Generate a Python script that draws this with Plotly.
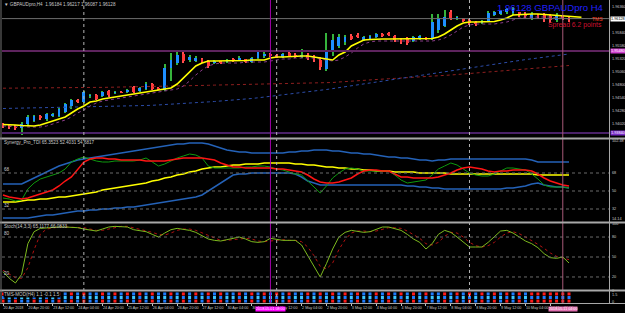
import plotly.graph_objects as go

# ---------------- data ----------------
opens = [
1.94020,1.93980,1.93960,1.93940,1.94020,1.94080,1.94180,1.94120,1.94180,1.94180,
1.94260,1.94380,1.94500,1.94460,1.94580,1.94600,1.94580,1.94680,1.94640,1.94660,
1.94660,1.94760,1.94680,1.94720,1.94820,1.94740,1.94700,1.95140,1.95240,1.95420,
1.95300,1.95280,1.95320,1.95280,1.95240,1.95280,1.95260,1.95320,1.95300,1.95320,
1.95260,1.95340,1.95380,1.95420,1.95400,1.95360,1.95440,1.95400,1.95360,1.95400,
1.95360,1.95300,1.95120,1.95500,1.95580,1.95660,1.95780,1.95800,1.95700,1.95720,
1.95760,1.95820,1.95840,1.95780,1.95720,1.95720,1.95680,1.95720,1.95760,1.95720,
1.95900,1.95980,1.96260,1.96120,1.96140,1.96100,1.96060,1.96040,1.96080,1.96200,
1.96220,1.96260,1.96240,1.96260,1.96220,1.96140,1.96200,1.96200,1.96180,1.96100,
1.96180,1.96140]
highs = [
1.94040,1.94020,1.94000,1.94060,1.94200,1.94200,1.94200,1.94240,1.94240,1.94340,
1.94440,1.94520,1.94520,1.94680,1.94620,1.94620,1.94680,1.94700,1.94680,1.94680,
1.94720,1.94780,1.94760,1.94860,1.94840,1.94760,1.95220,1.95440,1.95460,1.95460,
1.95400,1.95380,1.95340,1.95300,1.95300,1.95280,1.95320,1.95340,1.95380,1.95320,
1.95360,1.95480,1.95460,1.95440,1.95420,1.95440,1.95460,1.95440,1.95520,1.95440,
1.95400,1.95360,1.95840,1.95820,1.95820,1.95800,1.95820,1.95840,1.95780,1.95800,
1.95840,1.95840,1.95860,1.95800,1.95740,1.95760,1.95780,1.95800,1.95760,1.96220,
1.96220,1.96300,1.96300,1.96180,1.96140,1.96120,1.96080,1.96100,1.96280,1.96280,
1.96300,1.96340,1.96360,1.96260,1.96260,1.96260,1.96220,1.96240,1.96220,1.96240,
1.96200,1.96160]
lows = [
1.93940,1.93920,1.93900,1.93800,1.94000,1.94060,1.94100,1.94080,1.94160,1.94160,
1.94240,1.94320,1.94440,1.94440,1.94540,1.94500,1.94560,1.94560,1.94620,1.94640,
1.94640,1.94640,1.94660,1.94700,1.94700,1.94700,1.94680,1.94880,1.95200,1.95240,
1.95260,1.95260,1.95240,1.95140,1.95220,1.95220,1.95240,1.95260,1.95280,1.95240,
1.95240,1.95320,1.95340,1.95360,1.95340,1.95340,1.95360,1.95340,1.95340,1.95300,
1.95260,1.95100,1.95080,1.95380,1.95540,1.95600,1.95700,1.95740,1.95680,1.95700,
1.95740,1.95760,1.95780,1.95660,1.95620,1.95600,1.95660,1.95700,1.95700,1.95700,
1.95840,1.95960,1.96100,1.96100,1.96060,1.96000,1.95980,1.96020,1.96060,1.96180,
1.96200,1.96220,1.96200,1.96160,1.96140,1.96100,1.96120,1.96060,1.96040,1.96060,
1.96100,1.96060]
closes = [
1.93980,1.93960,1.93940,1.94020,1.94160,1.94180,1.94140,1.94220,1.94220,1.94320,
1.94420,1.94500,1.94460,1.94660,1.94600,1.94520,1.94660,1.94600,1.94660,1.94640,
1.94700,1.94660,1.94740,1.94820,1.94720,1.94720,1.95140,1.95300,1.95400,1.95280,
1.95360,1.95340,1.95260,1.95180,1.95280,1.95240,1.95300,1.95280,1.95340,1.95260,
1.95340,1.95460,1.95420,1.95380,1.95360,1.95420,1.95380,1.95360,1.95400,1.95340,
1.95300,1.95160,1.95500,1.95700,1.95760,1.95760,1.95720,1.95760,1.95760,1.95780,
1.95820,1.95780,1.95800,1.95700,1.95660,1.95640,1.95760,1.95780,1.95720,1.96060,
1.96140,1.96160,1.96140,1.96160,1.96080,1.96040,1.96020,1.96080,1.96240,1.96260,
1.96280,1.96320,1.96320,1.96200,1.96180,1.96220,1.96160,1.96120,1.96100,1.96200,
1.96140,1.96128]

ma_yellow = [
1.94010,1.94010,1.94000,1.93990,1.93980,1.93980,1.94000,1.94040,1.94080,1.94110,
1.94160,1.94240,1.94320,1.94380,1.94460,1.94480,1.94520,1.94540,1.94560,1.94580,
1.94600,1.94620,1.94640,1.94660,1.94680,1.94700,1.94720,1.94740,1.94820,1.94940,
1.95080,1.95180,1.95240,1.95280,1.95280,1.95280,1.95280,1.95280,1.95280,1.95290,
1.95300,1.95300,1.95300,1.95340,1.95360,1.95360,1.95370,1.95380,1.95380,1.95380,
1.95360,1.95340,1.95320,1.95300,1.95400,1.95460,1.95580,1.95640,1.95700,1.95710,
1.95720,1.95720,1.95720,1.95720,1.95720,1.95720,1.95720,1.95720,1.95720,1.95730,
1.95760,1.95820,1.95900,1.95980,1.96040,1.96060,1.96060,1.96060,1.96060,1.96070,
1.96100,1.96140,1.96200,1.96210,1.96220,1.96220,1.96220,1.96210,1.96200,1.96190,
1.96180,1.96170,1.96160,1.96154]
ma_purple = [
1.93980,1.93980,1.93980,1.93980,1.93960,1.93960,1.93960,1.93980,1.94020,1.94060,
1.94100,1.94160,1.94240,1.94300,1.94380,1.94440,1.94480,1.94500,1.94520,1.94540,
1.94560,1.94580,1.94600,1.94620,1.94640,1.94660,1.94680,1.94700,1.94720,1.94780,
1.94880,1.95000,1.95100,1.95180,1.95220,1.95240,1.95240,1.95240,1.95240,1.95260,
1.95260,1.95260,1.95260,1.95280,1.95300,1.95320,1.95320,1.95340,1.95340,1.95340,
1.95340,1.95320,1.95300,1.95280,1.95300,1.95360,1.95440,1.95540,1.95620,1.95660,
1.95680,1.95680,1.95680,1.95680,1.95680,1.95680,1.95680,1.95680,1.95680,1.95680,
1.95700,1.95740,1.95800,1.95880,1.95960,1.96000,1.96020,1.96020,1.96020,1.96020,
1.96040,1.96060,1.96100,1.96140,1.96160,1.96160,1.96160,1.96160,1.96160,1.96140,
1.96140,1.96120]
ma_red = [
1.94736,1.94738,1.94738,1.94740,1.94740,1.94742,1.94742,1.94744,1.94744,1.94746,
1.94746,1.94748,1.94748,1.94750,1.94750,1.94752,1.94752,1.94754,1.94754,1.94756,
1.94756,1.94758,1.94760,1.94760,1.94762,1.94764,1.94766,1.94770,1.94774,1.94778,
1.94782,1.94786,1.94790,1.94794,1.94798,1.94800,1.94804,1.94806,1.94808,1.94810,
1.94812,1.94814,1.94816,1.94818,1.94820,1.94822,1.94824,1.94826,1.94828,1.94830,
1.94832,1.94834,1.94840,1.94850,1.94860,1.94870,1.94880,1.94890,1.94898,1.94906,
1.94914,1.94920,1.94926,1.94932,1.94938,1.94944,1.94950,1.94956,1.94962,1.94970,
1.94980,1.94990,1.95000,1.95010,1.95020,1.95030,1.95040,1.95050,1.95060,1.95070,
1.95080,1.95090,1.95100,1.95110,1.95120,1.95130,1.95140,1.95150,1.95160,1.95170,
1.95180,1.95190]
ma_blue = [
1.94330,1.94332,1.94334,1.94336,1.94338,1.94340,1.94342,1.94344,1.94346,1.94348,
1.94350,1.94352,1.94354,1.94356,1.94358,1.94360,1.94362,1.94366,1.94370,1.94374,
1.94378,1.94382,1.94386,1.94390,1.94394,1.94400,1.94406,1.94414,1.94422,1.94430,
1.94438,1.94446,1.94454,1.94462,1.94470,1.94478,1.94486,1.94494,1.94502,1.94516,
1.94530,1.94544,1.94558,1.94572,1.94586,1.94600,1.94614,1.94628,1.94642,1.94656,
1.94670,1.94690,1.94710,1.94728,1.94746,1.94764,1.94782,1.94800,1.94818,1.94836,
1.94854,1.94872,1.94890,1.94908,1.94926,1.94944,1.94962,1.94980,1.95000,1.95020,
1.95040,1.95060,1.95080,1.95100,1.95120,1.95140,1.95160,1.95180,1.95200,1.95220,
1.95240,1.95260,1.95276,1.95292,1.95308,1.95324,1.95340,1.95356,1.95372,1.95388,
1.95404,1.95420]
level_lines = [1.95480, 1.93840]

tdi_upper = [
57,57,57,57,60,63,66,69,72,75, 77,79,81,82,83,84,85,86,87,88,
89,90,91,92,93,94,95,96,97,97, 98,98,98,97,95,93,91,90,89,89,
88,88,88,88,88,88,89,89,90,90, 91,91,91,90,90,89,88,88,87,87,
86,85,84,84,83,83,82,81,81,80, 81,81,82,82,82,82,82,82,82,82,
82,82,82,82,82,81,79,79,79,79, 79,79]
tdi_lower = [
23,23,23,23,23,24,25,26,26,27, 28,29,30,30,31,31,32,32,33,33,
34,34,35,36,37,38,39,40,41,42, 43,44,46,50,54,58,62,66,67,67,
68,68,68,68,68,68,68,67,64,60, 58,56,56,56,56,56,56,56,56,56,
56,56,56,56,56,55,55,54,54,53, 53,52,52,52,52,52,52,52,52,52,
52,53,53,54,55,57,58,56,55,54, 54,53]
tdi_base = [
39,39,39,40,41,41,42,42,43,44, 44,45,46,47,48,49,51,52,53,54,
55,56,57,58,60,61,63,64,66,67, 69,70,72,73,74,74,75,76,76,77,
77,77,78,78,78,78,78,77,77,76, 76,75,74,74,73,73,72,72,71,71,
70,70,70,69,69,69,69,68,68,68, 68,68,67,67,67,67,67,67,67,67,
67,67,67,67,67,67,66,66,66,66, 66,66]
tdi_signal = [
46,44,43,42,43,45,47,49,51,55, 60,64,71,79,82,83,83,82,82,81,
81,81,81,80,80,80,80,81,82,83, 83,83,83,82,81,78,76,74,74,73,
73,73,73,73,72,72,71,70,69,66, 62,59,58,58,59,61,63,67,70,71,
71,70,70,67,64,64,63,63,63,63, 64,66,68,71,73,74,73,72,70,69,
70,70,71,71,71,70,67,63,60,58, 56,55]
tdi_rsi = [
43,42,40,41,52,58,62,64,66,68, 72,79,82,84,82,80,79,79,80,80,
80,80,81,83,79,75,77,80,83,85, 87,86,83,75,73,73,73,73,73,74,
74,75,75,74,72,71,69,67,66,60, 54,48,55,63,68,72,73,72,70,70,
70,70,70,66,61,58,59,60,61,66, 72,75,78,76,72,68,66,65,65,67,
70,73,73,72,71,67,62,56,54,54, 54,53]
tdi_levels = [68, 50, 32]

stoch_k = [
28,18,11,24,70,88,93,94,95,95, 95,95,94,92,90,89,92,95,96,96,
95,91,90,88,84,80,86,91,93,92, 90,87,82,77,75,74,76,78,80,77,
73,72,73,78,76,75,75,75,68,52, 35,20,40,62,80,87,90,89,87,88,
92,95,95,93,90,84,77,72,62,70, 84,90,87,80,72,65,65,65,72,80,
89,90,86,80,74,70,64,55,49,48, 50,41]
stoch_d = [
30,24,19,18,34,61,84,92,94,95, 95,95,95,94,92,90,90,92,94,96,
96,94,92,90,87,84,83,86,90,92, 92,90,86,82,78,75,75,76,78,78,
77,74,73,74,76,76,75,75,73,65, 52,36,32,41,61,76,86,89,89,88,
89,92,94,94,93,89,84,78,70,68, 72,81,87,86,80,72,67,65,67,72,
80,86,88,85,80,75,69,63,56,51, 49,46]
stoch_levels = [80, 50, 20]

tms_top = ("rbrbbrbrbr" "brbrbbrbrb" "rbrbrbbrbr" "brbrbrbbrb" "rbrbrbrbbr"
           "brbrbrbrbb" "rbrbrbrbrb" "brbrbrbrbr" "brbrbrrrrr" "rr")
tms_mid = ("bcbccbcbcb" "cbcbccbcbc" "bcbcbccbcb" "cbcbcbccbc" "bcbcbcbccb"
           "cbcbcbcbcc" "bcbcbcbcbc" "cbcbcbcbcb" "cbcbcbbbbb" "bb")
tms_bot = ("rbrbbrbrbr" "brbrbbrbrb" "rbrbrbbrbr" "brbrbrbbrb" "rbrbrbrbbr"
           "brbrbrbrbb" "rbrbrbrbrb" "brbrbrbrbr" "brbrbrrrrr" "rr")

time_ticks = [0,4,8,12,16,20,24,28,32,36,40,44,48,52,56,60,64,68,72,76,80,84,88]
time_labels = ["20 Apr 2018","20 Apr 20:00","23 Apr 12:00","24 Apr 04:00","24 Apr 20:00",
               "25 Apr 12:00","26 Apr 04:00","26 Apr 20:00","27 Apr 12:00","30 Apr 04:00",
               "30 Apr 20:00","1 May 12:00","2 May 04:00","2 May 20:00","3 May 12:00",
               "4 May 04:00","4 May 20:00","7 May 12:00","8 May 04:00","8 May 20:00",
               "9 May 12:00","10 May 04:00","10 May 20:00"]
price_ticks = [1.96360,1.96100,1.95840,1.95580,1.95320,1.95060,1.94800,1.94540,1.94280,1.94020]
sep_bars = [13, 44, 75]
marker_bars = [43, 90]
marker_labels = ["2018.05.01 08:00", "2018.05.11 04:00"]

# ---------------- layout helpers ----------------
W, H = 625, 313
def fy(px):
    return 1 - px / H
def fx(px):
    return px / W
X0, X1 = fx(2), fx(609)
XR = [-0.16, 97.43]
FONT = "Liberation Sans, Arial, sans-serif"
TXT = "#C8C8C8"
SMALL = 4.6
AXF = 3.8
TF = 3.7

fig = go.Figure()
n = len(opens)
idx = list(range(n))
up = [i for i in idx if closes[i] >= opens[i]]
dn = [i for i in idx if closes[i] < opens[i]]

# wicks (thin bars) then bodies
fig.add_trace(go.Bar(x=up, y=[highs[i] - lows[i] for i in up], base=[lows[i] for i in up],
                     width=0.17, marker=dict(color="#36B43C", line=dict(width=0)),
                     xaxis="x", yaxis="y", hoverinfo="skip"))
fig.add_trace(go.Bar(x=dn, y=[highs[i] - lows[i] for i in dn], base=[lows[i] for i in dn],
                     width=0.17, marker=dict(color="#FF5050", line=dict(width=0)),
                     xaxis="x", yaxis="y", hoverinfo="skip"))
fig.add_trace(go.Bar(x=up, y=[closes[i] - opens[i] for i in up], base=[opens[i] for i in up],
                     width=0.45, marker=dict(color="#1E90FF", line=dict(width=0)),
                     xaxis="x", yaxis="y", hoverinfo="skip"))
fig.add_trace(go.Bar(x=dn, y=[closes[i] - opens[i] for i in dn], base=[opens[i] for i in dn],
                     width=0.45, marker=dict(color="#FF3A3A", line=dict(width=0)),
                     xaxis="x", yaxis="y", hoverinfo="skip"))

def line(ys, color, width=1, dash="solid", ax=""):
    fig.add_trace(go.Scatter(x=list(range(len(ys))), y=ys,
                             mode="lines", line=dict(color=color, width=width, dash=dash),
                             xaxis="x" + ax, yaxis="y" + ax, hoverinfo="skip"))

line(ma_red, "#8E1F1F", 1, "dot")
line(ma_blue, "#2C4CA8", 1, "dot")
line(ma_purple, "#8A3C8A", 1, "dot")
line(ma_yellow, "#FFFF00", 1.6)

# Synergy TDI
line(tdi_upper, "#2462B8", 1.5, ax="2")
line(tdi_lower, "#2462B8", 1.5, ax="2")
line(tdi_base, "#FFFF00", 1.5, ax="2")
line(tdi_rsi, "#0E9A0E", 1, ax="2")
line(tdi_signal, "#FF1414", 1.5, ax="2")

# Stochastic
line(stoch_d, "#B01010", 1, "dot", ax="3")
line(stoch_k, "#7DBA1E", 1, ax="3")

# TMS dots
cmap = {"r": "#FF1A1A", "b": "#1E7CFF", "c": "#3CC8FF"}
for row, yv in ((tms_top, 1.3), (tms_mid, 0.75), (tms_bot, 0.2)):
    fig.add_trace(go.Scatter(x=idx, y=[yv] * n, mode="markers",
                             marker=dict(symbol="square", size=3, color=[cmap[c] for c in row],
                                         line=dict(width=0)),
                             xaxis="x4", yaxis="y4", hoverinfo="skip"))

shapes = []
shapes.append(dict(type="line", xref="paper", yref="y", x0=X0, x1=X1, y0=closes[-1], y1=closes[-1],
                   line=dict(color="#6E6E6E", width=1)))
shapes.append(dict(type="line", xref="paper", yref="y", x0=X0, x1=X1, y0=level_lines[0], y1=level_lines[0],
                   line=dict(color="#5E245E", width=2)))
shapes.append(dict(type="line", xref="paper", yref="y", x0=X0, x1=X1, y0=level_lines[1], y1=level_lines[1],
                   line=dict(color="#4A2168", width=2)))
for lv in tdi_levels:
    shapes.append(dict(type="line", xref="paper", yref="y2", x0=X0, x1=X1, y0=lv, y1=lv,
                       line=dict(color="#6A6A6A", width=1, dash="dot")))
for lv in stoch_levels:
    shapes.append(dict(type="line", xref="paper", yref="y3", x0=X0, x1=X1, y0=lv, y1=lv,
                       line=dict(color="#6A6A6A", width=1, dash="dot")))
for b in sep_bars:
    shapes.append(dict(type="line", xref="x", yref="paper", x0=b, x1=b, y0=fy(303), y1=1,
                       line=dict(color="#B4B4B4", width=1, dash="dot")))
shapes.append(dict(type="line", xref="x", yref="paper", x0=marker_bars[0], x1=marker_bars[0],
                   y0=fy(303), y1=1, line=dict(color="#A000A8", width=1)))
shapes.append(dict(type="line", xref="x", yref="paper", x0=marker_bars[1], x1=marker_bars[1],
                   y0=fy(303), y1=1, line=dict(color="#A85A78", width=1)))
for p in (138.5, 222.5, 290.5):
    shapes.append(dict(type="line", xref="paper", yref="paper", x0=0, x1=1, y0=fy(p), y1=fy(p),
                       line=dict(color="#A8A8A8", width=2)))
shapes.append(dict(type="line", xref="paper", yref="paper", x0=0, x1=1, y0=fy(303.5), y1=fy(303.5),
                   line=dict(color="#A8A8A8", width=1)))
shapes.append(dict(type="line", xref="paper", yref="paper", x0=fx(609.5), x1=fx(609.5), y0=fy(304), y1=1,
                   line=dict(color="#A8A8A8", width=1)))
shapes.append(dict(type="line", xref="paper", yref="paper", x0=fx(1), x1=fx(1), y0=fy(304), y1=1,
                   line=dict(color="#707070", width=1)))

ann = []
def text(x, y, s, size=SMALL, color=TXT, xanchor="left", yanchor="middle", xref="paper", yref="paper",
         bg=None, **kw):
    d = dict(x=x, y=y, text=s, showarrow=False, xref=xref, yref=yref, xanchor=xanchor, yanchor=yanchor,
             font=dict(size=size, color=color, family=FONT), borderpad=0)
    if bg:
        d["bgcolor"] = bg
    d.update(kw)
    ann.append(d)

text(fx(3), fy(4.5), "\u25bc GBPAUDpro,H4  1.96184 1.96217 1.96087 1.96128")
text(fx(605), fy(7.5), "1.96128 GBPAUDpro H4", size=9.6, color="#2020FF", xanchor="right")
text(fx(604), fy(18.5), "TMS", size=5, color="#FF3A1A", xanchor="right")
text(fx(603), fy(25), "Spread 6.2 points", size=6.8, color="#D01030", xanchor="right")
# price boxes
text(X1, closes[-1], "1.96128", size=AXF, xref="paper", yref="y", bg="#FFFFFF", color="#000000", xshift=1)
text(X1, level_lines[0], "1.95480", size=AXF, xref="paper", yref="y", bg="#D040D0", color="#FFFFFF", xshift=1)
text(X1, level_lines[1], "1.93840", size=AXF, xref="paper", yref="y", bg="#7A2EC8", color="#FFFFFF", xshift=1)
# indicator labels
text(fx(3), fy(142.5), "Synergy_Pro_TDI 65.3523 52.4031 54.6817")
text(fx(3), fy(226.5), "Stoch(14,3,3) 65.1177 66.0833")
text(fx(3), fy(294), "TMS-MOD(H4) 1.1 -0.1 1.5", bg="#000000")
for lv in (68, 32):
    text(fx(3), lv, str(lv), xref="paper", yref="y2", yanchor="bottom")
for lv in (80, 20):
    text(fx(3), lv, str(lv), xref="paper", yref="y3", yanchor="bottom")
text(fx(611), fy(141.5), "102.48", size=AXF)
text(fx(611), fy(219), "14.14", size=AXF)
# time markers
text(marker_bars[0], fy(308.5), marker_labels[0], size=TF, xref="x4", xanchor="center", bg="#FF00FF", color="#FFFFFF")
text(marker_bars[1], fy(308.5), marker_labels[1], size=TF, xref="x4", xanchor="center", bg="#E070B0", color="#FFFFFF")

ax_common = dict(showgrid=False, zeroline=False, showline=False, range=XR, domain=[X0, X1])
yax_common = dict(showgrid=False, zeroline=False, showline=False, side="right", ticks="",
                  tickfont=dict(size=AXF, color=TXT, family=FONT), ticklabelstandoff=2)

fig.update_layout(
    width=W, height=H, margin=dict(l=0, r=0, t=0, b=0), template="none",
    paper_bgcolor="#000000", plot_bgcolor="#000000", showlegend=False, barmode="overlay",
    bargap=0,
    xaxis=dict(ax_common, anchor="y", showticklabels=False),
    xaxis2=dict(ax_common, anchor="y2", showticklabels=False, matches="x"),
    xaxis3=dict(ax_common, anchor="y3", showticklabels=False, matches="x"),
    xaxis4=dict(ax_common, anchor="y4", matches="x", tickmode="array", tickvals=time_ticks,
                ticktext=time_labels, ticks="outside", ticklen=2, tickcolor="#C0C0C0",
                ticklabelposition="outside right", tickangle=0, ticklabelstandoff=1,
                tickfont=dict(size=TF, color=TXT, family=FONT)),
    yaxis=dict(yax_common, anchor="x", domain=[fy(136), fy(2)], range=[1.93780, 1.96460],
               tickmode="array", tickvals=price_ticks, ticktext=["%.5f" % v for v in price_ticks]),
    yaxis2=dict(yax_common, anchor="x2", domain=[fy(222), fy(140)], range=[19, 101],
                tickmode="array", tickvals=tdi_levels, ticktext=[str(v) for v in tdi_levels]),
    yaxis3=dict(yax_common, anchor="x3", domain=[fy(290.3), fy(223.7)], range=[0, 100],
                tickmode="array", tickvals=[100, 80, 50, 20, 0], ticktext=["100", "80", "50", "20", "0"]),
    yaxis4=dict(yax_common, anchor="x4", domain=[fy(303), fy(292)], range=[-0.1, 1.6],
                tickmode="array", tickvals=[1.15, 0.05], ticktext=["1.5", "0"]),
    shapes=shapes, annotations=ann,
)

fig.write_html("out.html")
